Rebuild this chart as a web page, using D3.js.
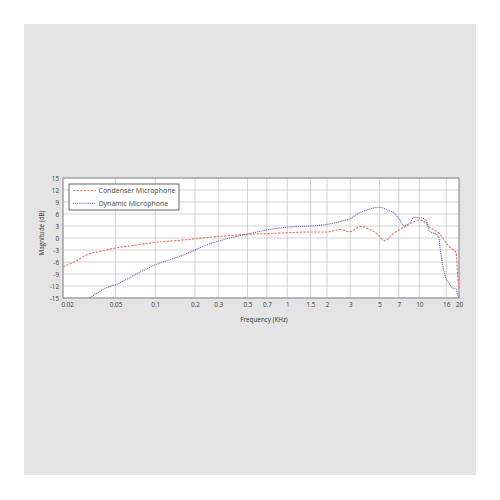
<!DOCTYPE html>
<html>
<head>
<meta charset="utf-8">
<script src="https://cdn.jsdelivr.net/npm/d3@7"></script>
<style>
    body { margin: 0; background: #ffffff; }
    text { font-family: "Open Sans", sans-serif; fill: #333333; }
    .tick-label { font-size: 6.3px; }
    .axis-label { font-size: 6.3px; }
    .legend-label { font-size: 7px; fill: #444444; }
</style>
</head>
<body>
<script>
// Set chart dimensions
const width = 500;
const height = 500;
const margin = {
    top: 178,
    right: 41,
    bottom: 202,
    left: 63
};

// Tick values on both axes
const xTicks = [0.02, 0.05, 0.1, 0.2, 0.3, 0.5, 0.7, 1, 1.5, 2, 3, 5, 7, 10, 16, 20];
const yTicks = [15, 12, 9, 6, 3, 0, -3, -6, -9, -12, -15];

// Condenser microphone response (frequency in KHz, magnitude in dB)
const condenserFreq = [0.02, 0.025, 0.03, 0.04, 0.05, 0.07, 0.1, 0.15, 0.2, 0.3, 0.5, 0.7, 1, 1.5, 2, 2.5, 3, 3.6, 4.2, 4.8, 5.5, 6.2, 7, 8, 9, 10, 11, 12, 13, 14.5, 16.5, 18.2, 19, 19.6, 20];
const condenserDb = [-7.2, -5.8, -4.3, -3.2, -2.5, -1.8, -1.1, -0.6, -0.2, 0.4, 0.9, 1.1, 1.3, 1.5, 1.5, 2.1, 1.6, 2.9, 2.2, 1.0, -0.7, 0.8, 2.0, 3.0, 4.0, 4.5, 4.0, 2.6, 2.0, 0.8, -1.8, -3.0, -3.6, -10, -12.5];

// Dynamic microphone response
const dynamicFreq = [0.032, 0.036, 0.042, 0.05, 0.07, 0.1, 0.15, 0.2, 0.25, 0.3, 0.4, 0.5, 0.7, 1, 1.5, 2, 2.5, 3, 3.5, 4, 5, 5.5, 6, 6.5, 7, 7.7, 8.3, 9.2, 10.5, 11.3, 12.1, 13.3, 14, 14.6, 15.9, 16.9, 18, 19, 19.8];
const dynamicDb = [-15, -13.8, -12.5, -11.7, -9.2, -6.7, -4.7, -3.0, -1.6, -0.8, 0.3, 1.0, 2.0, 2.7, 3.0, 3.4, 4.1, 4.9, 6.2, 7.0, 7.7, 7.3, 6.7, 6.2, 4.8, 3.1, 3.6, 5.1, 5.0, 4.3, 1.5, 1.0, 0.2, -4.2, -10, -11.5, -12.5, -12.8, -15];

// Series labels and styles for the legend
const seriesNames = ["Condenser Microphone", "Dynamic Microphone"];
const seriesColors = ["#e8776e", "#5b5fae"];
const seriesDashes = ["2.4,1.2", "1,0.9"];

const series = [
    condenserFreq.map((f, i) => ({ f: f, db: condenserDb[i] })),
    dynamicFreq.map((f, i) => ({ f: f, db: dynamicDb[i] }))
];

// Create the SVG container
const svg = d3.select("body")
    .append("svg")
    .attr("width", width)
    .attr("height", height);

// Grey panel behind the chart
svg.append("rect")
    .attr("x", 24)
    .attr("y", 24)
    .attr("width", 452)
    .attr("height", 451)
    .attr("fill", "#e4e4e4");

// Scales
const xScale = d3.scaleLog()
    .domain([0.02, 20])
    .range([margin.left, width - margin.right]);

const yScale = d3.scaleLinear()
    .domain([-15, 15])
    .range([height - margin.bottom, margin.top]);

// White plot area
svg.append("rect")
    .attr("x", margin.left)
    .attr("y", margin.top)
    .attr("width", xScale.range()[1] - margin.left)
    .attr("height", yScale.range()[0] - margin.top)
    .attr("fill", "#ffffff");

// Grid lines
svg.append("g")
    .selectAll("line")
    .data(xTicks)
    .join("line")
    .attr("x1", d => xScale(d))
    .attr("x2", d => xScale(d))
    .attr("y1", margin.top)
    .attr("y2", height - margin.bottom)
    .attr("stroke", "#c8c8c8")
    .attr("stroke-width", 0.8);

svg.append("g")
    .selectAll("line")
    .data(yTicks)
    .join("line")
    .attr("x1", margin.left)
    .attr("x2", width - margin.right)
    .attr("y1", d => yScale(d))
    .attr("y2", d => yScale(d))
    .attr("stroke", "#c8c8c8")
    .attr("stroke-width", 0.8);

// Axes (labels only, no tick marks)
const bottomAxis = d3.axisBottom(xScale)
    .tickValues(xTicks)
    .tickFormat(d => d)
    .tickSize(0)
    .tickPadding(5);

const leftAxis = d3.axisLeft(yScale)
    .tickValues(yTicks)
    .tickFormat(d => d)
    .tickSize(0)
    .tickPadding(4);

const xAxisG = svg.append("g")
    .attr("transform", `translate(0, ${height - margin.bottom})`)
    .call(bottomAxis);

const yAxisG = svg.append("g")
    .attr("transform", `translate(${margin.left}, 0)`)
    .call(leftAxis);

[xAxisG, yAxisG].forEach(g => {
    g.select(".domain").remove();
    g.selectAll("text")
        .attr("class", "tick-label")
        .attr("fill", "#333333");
});

// First x label sits inside the plot edge
xAxisG.selectAll(".tick text")
    .filter(d => d === 0.02)
    .attr("text-anchor", "start")
    .attr("x", -2);

// Plot border
svg.append("rect")
    .attr("x", margin.left)
    .attr("y", margin.top)
    .attr("width", xScale.range()[1] - margin.left)
    .attr("height", yScale.range()[0] - margin.top)
    .attr("fill", "none")
    .attr("stroke", "#8a8a8a")
    .attr("stroke-width", 1);

// Response lines
const line = d3.line()
    .x(d => xScale(d.f))
    .y(d => yScale(d.db))
    .curve(d3.curveMonotoneX);

svg.append("g")
    .selectAll("path")
    .data(series)
    .join("path")
    .attr("d", line)
    .attr("fill", "none")
    .attr("stroke", (d, i) => seriesColors[i])
    .attr("stroke-width", 1.1)
    .attr("stroke-dasharray", (d, i) => seriesDashes[i]);

// Axis titles
svg.append("text")
    .attr("class", "axis-label")
    .attr("x", (margin.left + width - margin.right) / 2 + 3)
    .attr("y", 322)
    .attr("text-anchor", "middle")
    .text("Frequency (KHz)");

svg.append("text")
    .attr("class", "axis-label")
    .attr("transform", "rotate(-90)")
    .attr("x", -233)
    .attr("y", 44)
    .attr("text-anchor", "middle")
    .text("Magnitude (dB)");

// Legend
const legend = svg.append("g");

legend.append("rect")
    .attr("x", 69)
    .attr("y", 184)
    .attr("width", 110)
    .attr("height", 26)
    .attr("fill", "#ffffff")
    .attr("stroke", "#555555")
    .attr("stroke-width", 0.9);

const legendRows = legend.selectAll("g.row")
    .data(seriesNames)
    .join("g")
    .attr("class", "row")
    .attr("transform", (d, i) => `translate(0, ${190.5 + i * 12.8})`);

legendRows.append("line")
    .attr("x1", 73)
    .attr("x2", 96)
    .attr("stroke", (d, i) => seriesColors[i])
    .attr("stroke-width", 1)
    .attr("stroke-dasharray", (d, i) => seriesDashes[i]);

legendRows.append("text")
    .attr("class", "legend-label")
    .attr("x", 98.5)
    .attr("dy", "0.35em")
    .text(d => d);
</script>
</body>
</html>
